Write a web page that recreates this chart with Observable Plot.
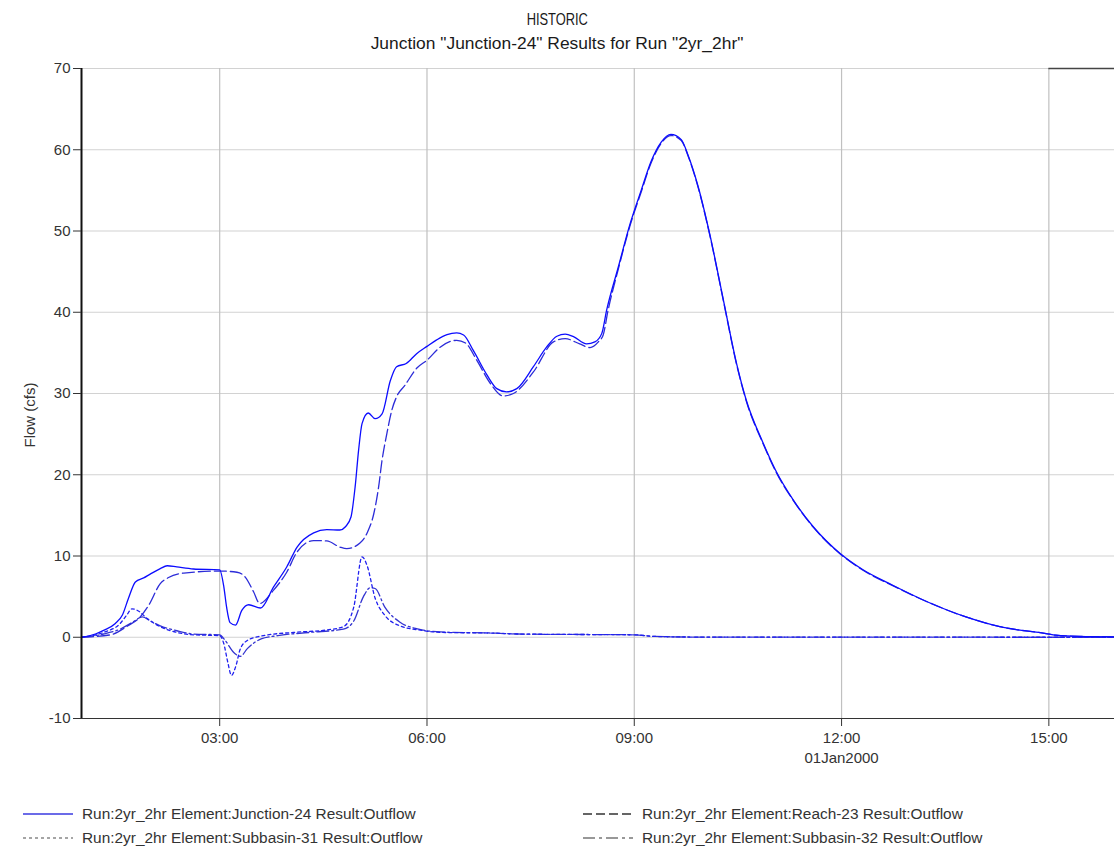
<!DOCTYPE html>
<html><head><meta charset="utf-8">
<script src="https://cdn.jsdelivr.net/npm/d3@7"></script>
<script src="https://cdn.jsdelivr.net/npm/@observablehq/plot@0.6"></script>
<style>
body{margin:0;background:#fff;font-family:"Liberation Sans",Arial,sans-serif;color:#333;}
#wrap{position:relative;width:1114px;height:851px;overflow:hidden;}
.t{position:absolute;left:0;width:1114px;text-align:center;color:#1a1a1a;line-height:1;}
.t span{display:inline-block;}
#chart{position:absolute;left:0;top:56px;}
.leg{position:absolute;font-size:15.4px;color:#333;line-height:1;white-space:nowrap;}
.leg svg{position:absolute;}
</style></head>
<body><div id="wrap">
<div class="t" style="top:11px;font-size:16.5px"><span style="transform:scaleX(0.78)">HISTORIC</span></div>
<div class="t" style="top:35px;font-size:17.4px"><span>Junction "Junction-24" Results for Run "2yr_2hr"</span></div>
<div id="chart"></div>
<div id="legend"></div>
</div>
<script>
// Tick values
const yTicks = [-10, 0, 10, 20, 30, 40, 50, 60, 70];
const xTicks = [3, 6, 9, 12, 15];
const dateLabel = "01Jan2000";

// Series: [hour of day, flow (cfs)]
const junction24 = [
  [1.0,0],[1.2,0.4],[1.32,0.85],[1.49,1.7],[1.59,2.7],[1.68,4.8],[1.78,6.8],[1.9,7.3],[2.0,7.8],
  [2.14,8.45],[2.24,8.8],[2.38,8.65],[2.62,8.4],[3.0,8.3],[3.06,6.2],[3.1,3.7],[3.15,1.8],[3.23,1.5],
  [3.32,3.3],[3.42,4.0],[3.59,3.6],[3.78,6.2],[3.97,8.65],[4.12,11.1],[4.36,12.85],[4.55,13.25],
  [4.74,13.2],[4.82,13.6],[4.9,14.8],[4.96,18.5],[5.01,23],[5.06,26.3],[5.15,27.6],[5.25,26.9],
  [5.35,27.5],[5.47,31.6],[5.56,33.3],[5.7,33.7],[5.85,34.9],[6.0,35.8],[6.14,36.6],[6.29,37.25],
  [6.43,37.45],[6.53,37.2],[6.67,35.3],[6.87,32.25],[7.01,30.6],[7.15,30.2],[7.3,30.6],[7.54,33.3],
  [7.73,35.7],[7.88,37.05],[8.0,37.3],[8.12,37.0],[8.31,36.1],[8.43,36.35],[8.53,37.4],[8.6,40.25],
  [8.77,45.6],[8.94,50.9],[9.1,55.0],[9.24,58.5],[9.39,60.95],[9.53,61.9],[9.68,61.25],[9.78,59.3],
  [9.92,55.6],[10.09,49.7],[10.29,41.5],[10.48,33.7],[10.62,29.2],[10.86,24.0],[11.06,20.3],
  [11.3,16.9],[11.59,13.6],[11.98,10.3],[12.31,8.3],[12.74,6.4],[13.23,4.4],[13.8,2.5],[14.29,1.3],
  [14.96,0.45],[15.1,0.25],[15.44,0.1],[15.95,0.05]
];
const reach23 = [
  [1.0,0],[1.42,0.3],[1.66,1.35],[1.85,2.5],[1.97,3.9],[2.14,6.6],[2.26,7.35],[2.48,7.9],[3.0,8.15],
  [3.25,8.0],[3.37,7.4],[3.49,5.6],[3.58,4.15],[3.78,5.8],[3.97,8.0],[4.12,10.5],[4.36,11.9],
  [4.55,11.85],[4.74,11.1],[4.84,10.9],[5.03,11.6],[5.14,12.95],[5.23,15.2],[5.3,18.5],[5.35,21.8],
  [5.42,25.1],[5.49,27.9],[5.56,29.6],[5.68,31.0],[5.85,33.1],[6.0,34.1],[6.19,35.7],[6.43,36.55],
  [6.56,36.2],[6.72,34.1],[6.92,31.2],[7.1,29.7],[7.25,30.0],[7.54,32.65],[7.83,36.35],[8.0,36.75],
  [8.21,36.1],[8.36,35.65],[8.48,36.35],[8.55,37.2],[8.62,40.2],[8.77,45.35],[8.94,50.7],[9.1,54.8],
  [9.24,58.3],[9.39,60.8],[9.53,61.75],[9.68,61.15],[9.78,59.2],[9.92,55.5],[10.09,49.6],[10.29,41.4],
  [10.48,33.6],[10.62,29.1],[10.86,23.9],[11.06,20.2],[11.3,16.85],[11.59,13.55],[11.98,10.25],
  [12.31,8.25],[12.74,6.35],[13.23,4.4],[13.8,2.5],[14.29,1.3],[14.96,0.45],[15.1,0.25],[15.44,0.1],
  [15.95,0.05]
];
const subbasin31 = [
  [1.0,0],[1.32,0.6],[1.56,1.7],[1.66,2.8],[1.73,3.5],[1.83,3.2],[1.95,2.3],[2.14,1.3],[2.38,0.6],
  [2.62,0.3],[3.0,0.2],[3.06,-0.8],[3.12,-3.2],[3.17,-4.7],[3.23,-3.65],[3.3,-1.4],[3.4,-0.4],
  [3.6,0.15],[4.07,0.6],[4.55,0.9],[4.79,1.3],[4.94,3.7],[5.06,9.9],[5.13,8.9],[5.25,4.8],[5.39,2.7],
  [5.61,1.4],[5.88,0.9],[6.2,0.6],[7.0,0.5],[7.3,0.4],[8.0,0.35],[9.0,0.3],[9.3,0.1],[10.0,0.02],[15.95,0]
];
const subbasin32 = [
  [1.0,0],[1.32,0.4],[1.56,1.0],[1.73,1.8],[1.88,2.5],[2.0,2.0],[2.14,1.4],[2.38,0.8],[2.62,0.4],
  [3.0,0.3],[3.08,-0.4],[3.2,-1.85],[3.3,-2.35],[3.4,-1.4],[3.6,-0.2],[3.84,0.2],[4.31,0.6],
  [4.79,1.0],[4.94,2.0],[5.08,5.0],[5.18,6.1],[5.25,6.0],[5.39,3.7],[5.61,1.85],[5.88,1.0],
  [6.2,0.65],[7.0,0.5],[7.3,0.4],[8.0,0.35],[9.0,0.3],[9.3,0.1],[10.0,0.02],[15.95,0]
];

const seriesNames = [
  "Run:2yr_2hr Element:Junction-24 Result:Outflow",
  "Run:2yr_2hr Element:Reach-23 Result:Outflow",
  "Run:2yr_2hr Element:Subbasin-31 Result:Outflow",
  "Run:2yr_2hr Element:Subbasin-32 Result:Outflow"
];

const fmt = h => String(h).padStart(2, "0") + ":00";
const lineOpts = (stroke, dash) => ({x: d => d[0], y: d => d[1], stroke, strokeWidth: 1.3,
  strokeDasharray: dash, curve: "monotone-x", clip: true});

const chart = Plot.plot({
  width: 1114, height: 722,
  marginLeft: 81, marginRight: 0, marginTop: 12, marginBottom: 60,
  style: {fontFamily: "'Liberation Sans', Arial, sans-serif", fontSize: "15px", color: "#333", background: "#fff", overflow: "visible"},
  x: {domain: [1, 15.95], label: null},
  y: {domain: [-10, 70], label: null},
  marks: [
    Plot.gridY(yTicks, {stroke: "#d2d2d2", strokeOpacity: 1, strokeWidth: 1.2}),
    Plot.gridX(xTicks, {stroke: "#c0c0c0", strokeOpacity: 1, strokeWidth: 1.2}),
    Plot.ruleY([70], {x1: 15, x2: 15.95, stroke: "#444", strokeWidth: 1.5}),
    Plot.line(subbasin32, lineOpts("#3434d0", "12,3,2,3")),
    Plot.line(subbasin31, lineOpts("#2020f0", "3,3")),
    Plot.line(reach23, lineOpts("#2c2cd8", "12,4")),
    Plot.line(junction24, lineOpts("#0c0cff", null)),
    Plot.ruleX([1], {stroke: "#111", strokeWidth: 2}),
    Plot.ruleY([-10], {stroke: "#333", strokeWidth: 1.2}),
    Plot.axisY(yTicks, {tickSize: 8, tickPadding: 3, fontSize: 15, stroke: "#333", tickFormat: d => String(d)}),
    Plot.axisX(xTicks, {tickSize: 8, tickPadding: 6, fontSize: 15, tickFormat: fmt, stroke: "#333"}),
    Plot.text([12], {x: d => d, text: () => dateLabel, frameAnchor: "bottom", dy: 44, fontSize: 15, fill: "#333"}),
    Plot.text(["Flow (cfs)"], {frameAnchor: "left", dx: -51, dy: 54, rotate: -90, fontSize: 15, fill: "#333"})
  ]
});
document.getElementById("chart").append(chart);

// Legend
const legendItems = [
  {name: seriesNames[0], left: 23, top: 814, stroke: "#3a3ae0", dash: null},
  {name: seriesNames[1], left: 583, top: 814, stroke: "#333", dash: "9,4"},
  {name: seriesNames[2], left: 23, top: 838, stroke: "#888", dash: "3,3"},
  {name: seriesNames[3], left: 583, top: 838, stroke: "#777", dash: "12,4,3,4"}
];
const legend = document.getElementById("legend");
for (const it of legendItems) {
  const div = document.createElement("div");
  div.className = "leg";
  div.style.left = it.left + "px";
  div.style.top = (it.top - 8) + "px";
  div.innerHTML = `<svg width="50" height="4" style="left:0;top:6px"><line x1="0" x2="50" y1="2" y2="2" stroke="${it.stroke}" stroke-width="1.3" ${it.dash ? `stroke-dasharray="${it.dash}"` : ""}/></svg><span style="position:absolute;left:59px;top:0">${it.name}</span>`;
  legend.append(div);
}
</script>
</body></html>
